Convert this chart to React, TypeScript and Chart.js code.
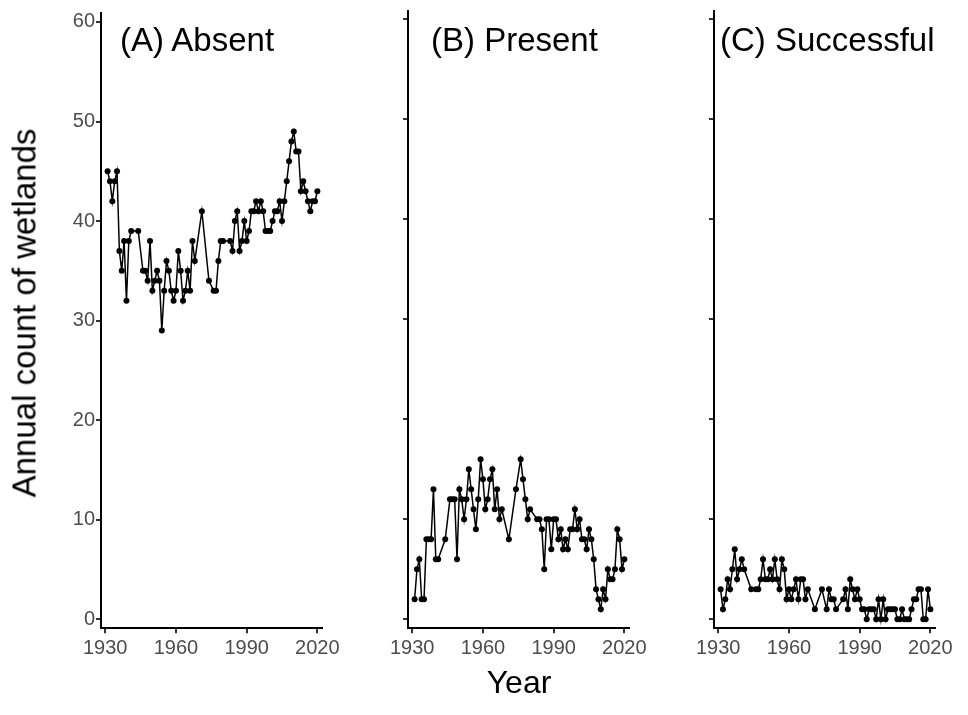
import React, { useEffect, useRef } from "react";
import { Chart, registerables } from "chart.js";

Chart.register(...registerables);

// ---- Data ----
const years = [
  1931, 1932, 1933, 1934, 1935, 1936, 1937, 1938, 1939, 1940, 1941,
  1944,
  1946, 1947, 1948, 1949, 1950, 1951, 1952, 1953, 1954, 1955, 1956, 1957,
  1958, 1959, 1960, 1961, 1962, 1963, 1964, 1965, 1966, 1967, 1968,
  1971, 1974,
  1976, 1977, 1978, 1979, 1980,
  1983, 1984, 1985, 1986, 1987, 1988, 1989, 1990, 1991, 1992, 1993, 1994,
  1995, 1996, 1997, 1998, 1999, 2000, 2001, 2002, 2003, 2004, 2005, 2006,
  2007, 2008, 2009, 2010, 2011, 2012, 2013, 2014, 2015, 2016, 2017, 2018,
  2019, 2020,
];

const absentCounts = [
  45, 44, 42, 44, 45, 37, 35, 38, 32, 38, 39,
  39,
  35, 35, 34, 38, 33, 34, 35, 34, 29, 33, 36, 35,
  33, 32, 33, 37, 35, 32, 33, 35, 33, 38, 36,
  41, 34,
  33, 33, 36, 38, 38,
  38, 37, 40, 41, 37, 38, 40, 38, 39, 41, 41, 42,
  41, 42, 41, 39, 39, 39, 40, 41, 41, 42, 40, 42,
  44, 46, 48, 49, 47, 47, 43, 44, 43, 42, 41, 42,
  42, 43,
];

const presentCounts = [
  2, 5, 6, 2, 2, 8, 8, 8, 13, 6, 6,
  8,
  12, 12, 12, 6, 13, 12, 10, 12, 15, 13, 11, 9,
  12, 16, 14, 11, 12, 14, 15, 11, 13, 10, 11,
  8, 13,
  16, 14, 12, 10, 11,
  10, 10, 9, 5, 10, 10, 7, 10, 10, 8, 9, 7,
  8, 7, 9, 9, 11, 9, 10, 8, 8, 7, 9, 8,
  6, 3, 2, 1, 3, 2, 5, 4, 4, 5, 9, 8,
  5, 6,
];

const successfulCounts = [
  3, 1, 2, 4, 3, 5, 7, 4, 5, 6, 5,
  3,
  3, 3, 4, 6, 4, 4, 5, 4, 6, 4, 3, 6,
  5, 2, 3, 2, 3, 4, 2, 4, 4, 2, 3,
  1, 3,
  1, 3, 2, 2, 1,
  2, 3, 1, 4, 3, 2, 3, 2, 1, 1, 0, 1,
  1, 1, 0, 2, 0, 2, 0, 1, 1, 1, 1, 0,
  0, 1, 0, 0, 0, 1, 2, 2, 3, 3, 0, 0,
  3, 1,
];

const xTickValues = [1930, 1960, 1990, 2020];
const yTickValues = [0, 10, 20, 30, 40, 50, 60];
const panelTitles = ["(A) Absent", "(B) Present", "(C) Successful"];
const xAxisTitle = "Year";
const yAxisTitle = "Annual count of wetlands";

// ---- Styling / layout ----
const FONT = "'Liberation Sans', Arial, Helvetica, sans-serif";
const CANVAS_W = 343;
const CANVAS_H = 672;
const Y_AXIS_W = 101;
const AREA_W = 221.8;
const AREA_TOP = 10.5;
const AREA_BOTTOM = 628.3;

type PanelProps = { values: number[]; left: number; showYLabels: boolean };

function Panel({ values, left, showYLabels }: PanelProps) {
  const ref = useRef<HTMLCanvasElement | null>(null);
  useEffect(() => {
    if (!ref.current) return;
    const axisGrid = {
      drawOnChartArea: false,
      drawTicks: true,
      tickLength: 5,
      color: "#333333",
      lineWidth: 2,
    };
    const axisBorder = { display: true, color: "#000000", width: 2 };
    const chart = new Chart(ref.current, {
      type: "line",
      data: {
        datasets: [
          {
            data: years.map((yr, i) => ({ x: yr, y: values[i] })),
            borderColor: "#000000",
            backgroundColor: "#000000",
            borderWidth: 1.5,
            pointRadius: 3,
            pointBorderWidth: 0,
            pointBackgroundColor: "#000000",
            tension: 0,
          },
        ],
      },
      options: {
        responsive: false,
        animation: false,
        devicePixelRatio: 1,
        layout: {
          padding: {
            top: AREA_TOP,
            right: CANVAS_W - Y_AXIS_W - AREA_W,
            left: 0,
            bottom: 0,
          },
        },
        plugins: {
          legend: { display: false },
          tooltip: { enabled: false },
          title: { display: false },
        },
        scales: {
          x: {
            type: "linear",
            min: 1928.2,
            max: 2021.8,
            afterBuildTicks: (s: any) => {
              s.ticks = xTickValues.map((v) => ({ value: v }));
            },
            afterFit: (s: any) => {
              s.height = CANVAS_H - AREA_BOTTOM;
            },
            grid: axisGrid,
            border: axisBorder,
            ticks: {
              color: "#4D4D4D",
              font: { family: FONT, size: 20 },
              padding: 3,
              maxRotation: 0,
              autoSkip: false,
              callback: (v: any) => String(v),
            },
          },
          y: {
            type: "linear",
            min: -0.9,
            max: 60.9,
            afterBuildTicks: (s: any) => {
              s.ticks = yTickValues.map((v) => ({ value: v }));
            },
            afterFit: (s: any) => {
              s.width = Y_AXIS_W;
            },
            grid: axisGrid,
            border: axisBorder,
            ticks: {
              display: showYLabels,
              color: "#4D4D4D",
              font: { family: FONT, size: 20 },
              padding: 1,
              callback: (v: any) => String(v),
            },
          },
        },
      },
    } as any);
    return () => chart.destroy();
  }, [values, showYLabels]);
  return (
    <canvas
      ref={ref}
      width={CANVAS_W}
      height={CANVAS_H}
      style={{
        position: "absolute",
        left,
        top: 0,
        width: CANVAS_W,
        height: CANVAS_H,
      }}
    />
  );
}

const panelSeries = [absentCounts, presentCounts, successfulCounts];
const panelCanvasLefts = [0, 307, 613];
const titleLefts = [120, 431, 720];

export default function App() {
  return (
    <div
      style={{
        position: "absolute",
        left: 0,
        top: 0,
        width: 968,
        height: 715,
        background: "#ffffff",
        overflow: "hidden",
        fontFamily: FONT,
      }}
    >
      {panelSeries.map((vals, i) => (
        <Panel
          key={i}
          values={vals}
          left={panelCanvasLefts[i]}
          showYLabels={i === 0}
        />
      ))}
      {panelTitles.map((t, i) => (
        <div
          key={t}
          style={{
            position: "absolute",
            left: titleLefts[i],
            top: 23,
            fontSize: 33,
            lineHeight: 1,
            color: "#000000",
            whiteSpace: "nowrap",
          }}
        >
          {t}
        </div>
      ))}
      <div
        style={{
          position: "absolute",
          left: 519,
          top: 682,
          transform: "translate(-50%, -50%)",
          fontSize: 32,
          lineHeight: 1,
          color: "#000000",
          whiteSpace: "nowrap",
        }}
      >
        {xAxisTitle}
      </div>
      <div
        style={{
          position: "absolute",
          left: 24,
          top: 313,
          transform: "translate(-50%, -50%) rotate(-90deg)",
          fontSize: 33,
          lineHeight: 1,
          color: "#000000",
          whiteSpace: "nowrap",
        }}
      >
        {yAxisTitle}
      </div>
    </div>
  );
}
